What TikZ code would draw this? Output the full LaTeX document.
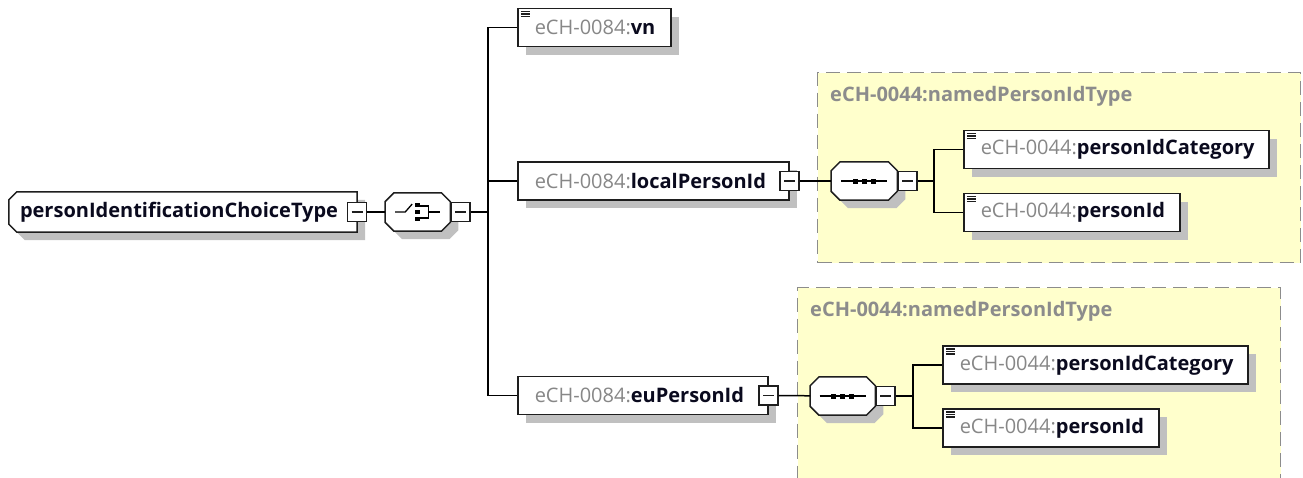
\documentclass[tikz,border=0pt]{standalone}
\usepackage{fontspec}
\setmainfont{Open Sans}
\usetikzlibrary{shadows}
\pgfdeclarelayer{back}
\pgfdeclarelayer{outline}
\pgfsetlayers{back,outline,main}

\definecolor{typefill}{RGB}{255,255,204}
\definecolor{typeedge}{RGB}{140,140,140}
\definecolor{nsgray}{RGB}{135,135,135}
\definecolor{shadowgray}{RGB}{192,192,192}
\definecolor{edge}{RGB}{30,30,30}
\definecolor{namecol}{RGB}{10,10,30}

% element label: grey namespace prefix, bold local name, kept on one line
\newcommand\lbl[2]{\mbox{\textcolor{nsgray}{#1}\textcolor{namecol}{\bfseries #2}}}

% octagonal outline around a named node: node, left chamfer, right chamfer
\newcommand\octpath[3]{%
  \path[octline] ([xshift=#2]#1.north west) -- ([xshift=-#3]#1.north east)
    -- ([yshift=-#3]#1.north east) -- ([yshift=#3]#1.south east)
    -- ([xshift=-#3]#1.south east) -- ([xshift=#2]#1.south west)
    -- ([yshift=#2]#1.south west) -- ([yshift=-#2]#1.north west) -- cycle;}

\begin{document}
\begin{tikzpicture}[x=1pt,y=-1pt,
  font=\fontsize{20}{24}\selectfont,
  boxshadow/.style={drop shadow={shadow xshift=8pt,shadow yshift=-8pt,fill=shadowgray,opacity=1}},
  elem/.style={rectangle, draw=edge, line width=1.5pt, fill=white, boxshadow,
    inner xsep=17pt, inner ysep=0pt, minimum height=38pt, align=left, text width=#1, anchor=west},
  doc/.style={path picture={
    \foreach \k in {3,5.5,8}{\draw[line width=1.4pt, edge]
      ([shift={(3pt,-\k pt)}]path picture bounding box.north west) -- ++(9pt,0pt);}}},
  minus/.style={rectangle, draw=edge, fill=white, line width=1.3pt, minimum size=19pt, inner sep=0pt,
    path picture={\draw[line width=1.3pt, edge]
      ([xshift=4pt]path picture bounding box.west) -- ([xshift=-4pt]path picture bounding box.east);}},
  octline/.style={draw=edge, line width=1.5pt, fill=white, boxshadow},
  hub/.style={rectangle, inner sep=0pt, minimum height=38pt},
  conn/.style={draw=black, line width=1.5pt},
  icon/.style={line width=1.3pt, draw=black},
  typebox/.style={rectangle, fill=typefill, draw=typeedge, line width=1.3pt,
    dash pattern=on 14pt off 7pt, anchor=north west, inner sep=0pt},
  typetitle/.style={anchor=west, text=typeedge, inner sep=0pt,
    font=\fontsize{20}{24}\selectfont\bfseries}]

\useasboundingbox (0,0) rectangle (1303,477);

% type regions
\begin{pgfonlayer}{back}
  \node[typebox, minimum width=483pt, minimum height=190pt] (t1) at (817,72) {};
  \node[typebox, minimum width=483pt, minimum height=200pt] (t2) at (797,287) {};
\end{pgfonlayer}
\node[typetitle] (t1t) at (830,96) {eCH-0044:namedPersonIdType};
\node[typetitle] (t2t) at (810,311) {eCH-0044:namedPersonIdType};

% root complex type
\node[hub, minimum width=348pt, minimum height=40pt, inner xsep=11pt, text width=326pt,
  align=left, font=\fontsize{20}{24}\selectfont\bfseries, text=namecol] (root) at (183,212)
  {\mbox{personIdentificationChoiceType}};
\begin{pgfonlayer}{outline}\octpath{root}{8pt}{0pt}\end{pgfonlayer}
\node[minus] (rootm) at (root.east) {};

% choice compositor
\node[hub, minimum width=65pt, anchor=west] (choice) at (385,212) {};
\begin{pgfonlayer}{outline}\octpath{choice}{9pt}{9pt}\end{pgfonlayer}
\begin{scope}[shift={(choice.center)}]
  \draw[icon] (-22.5,0) -- (-12.5,0) -- (-5.5,-8);
  \fill (-2.5,-9) rectangle (2,-5);
  \fill (-2.5,-2) rectangle (2,2);
  \fill (-2.5,5) rectangle (2,9);
  \draw[icon] (2,-6) -- (10.5,-6) -- (10.5,6) -- (2,6);
  \draw[icon] (10.5,0) -- (22.5,0);
\end{scope}
\node[minus, anchor=west] (choicem) at (choice.east) {};
\draw[conn] (rootm) -- (choice);
\coordinate (trunk) at (488,212);
\draw[conn] (choicem.east) -- (trunk);

% choice branches
\node[elem=119pt, doc] (vn) at (517,27.5) {\lbl{eCH-0084:}{vn}};
\node[elem=237pt] (lp) at (517,181) {\lbl{eCH-0084:}{localPersonId}};
\node[elem=216pt] (eu) at (517,395.5) {\lbl{eCH-0084:}{euPersonId}};
\node[minus] (lpm) at (lp.east) {};
\node[minus] (eum) at (eu.east) {};
\draw[conn] (vn.west) -- (vn.west -| trunk) -- (eu.west -| trunk) -- (eu.west);
\draw[conn] (lp.west) -- (lp.west -| trunk);

% localPersonId sequence
\node[hub, minimum width=66pt, anchor=west] (seq1) at (831,181) {};
\begin{pgfonlayer}{outline}\octpath{seq1}{9pt}{9pt}\end{pgfonlayer}
\begin{scope}[shift={(seq1.center)}]
  \draw[icon] (-23,0) -- (23,0);
  \fill (-11.5,-2.5) rectangle (-6.5,2.5);
  \fill (-2.5,-2.5) rectangle (2.5,2.5);
  \fill (6.5,-2.5) rectangle (11.5,2.5);
\end{scope}
\node[minus, anchor=west] (seq1m) at (seq1.east) {};
\draw[conn] (lpm) -- (seq1);
\coordinate (br1) at (934,181);
\draw[conn] (seq1m.east) -- (br1);
\node[elem=271pt, doc] (pc1) at (963,149.5) {\lbl{eCH-0044:}{personIdCategory}};
\node[elem=182pt, doc] (pi1) at (963,212.5) {\lbl{eCH-0044:}{personId}};
\draw[conn] (pc1.west) -- (pc1.west -| br1) -- (pi1.west -| br1) -- (pi1.west);

% euPersonId sequence
\node[hub, minimum width=65pt, anchor=west] (seq2) at (810,396) {};
\begin{pgfonlayer}{outline}\octpath{seq2}{9pt}{9pt}\end{pgfonlayer}
\begin{scope}[shift={(seq2.center)}]
  \draw[icon] (-23,0) -- (23,0);
  \fill (-11.5,-2.5) rectangle (-6.5,2.5);
  \fill (-2.5,-2.5) rectangle (2.5,2.5);
  \fill (6.5,-2.5) rectangle (11.5,2.5);
\end{scope}
\node[minus, anchor=west] (seq2m) at (seq2.east) {};
\draw[conn] (eum) -- (seq2);
\coordinate (br2) at (913,396);
\draw[conn] (seq2m.east) -- (br2);
\node[elem=271pt, doc] (pc2) at (942,365) {\lbl{eCH-0044:}{personIdCategory}};
\node[elem=182pt, doc] (pi2) at (942,428) {\lbl{eCH-0044:}{personId}};
\draw[conn] (pc2.west) -- (pc2.west -| br2) -- (pi2.west -| br2) -- (pi2.west);

\end{tikzpicture}
\end{document}
